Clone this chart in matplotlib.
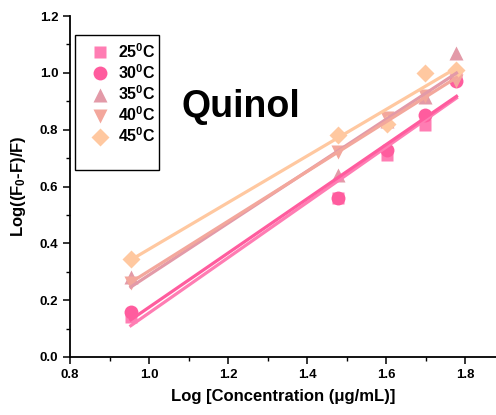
import numpy as np
import matplotlib.pyplot as plt
from matplotlib.patches import Rectangle
from matplotlib.ticker import MultipleLocator

plt.rcParams['font.family'] = ['Liberation Sans', 'DejaVu Sans']
plt.rcParams['font.weight'] = 'bold'
plt.rcParams['mathtext.fontset'] = 'custom'
plt.rcParams['mathtext.rm'] = 'Liberation Sans:bold'
plt.rcParams['mathtext.bf'] = 'Liberation Sans:bold'
plt.rcParams['mathtext.default'] = 'bf'

# log of concentration (ug/mL)
log_conc = np.array([0.954, 1.477, 1.602, 1.699, 1.778])

y25 = np.array([0.14, 0.56, 0.71, 0.815, 0.99])
y30 = np.array([0.16, 0.56, 0.73, 0.85, 0.97])
y35 = np.array([0.28, 0.64, 0.83, 0.915, 1.07])
y40 = np.array([0.26, 0.72, 0.84, 0.92, 0.97])
y45 = np.array([0.345, 0.78, 0.82, 1.00, 1.01])

series = [y25, y30, y35, y40, y45]
labels = [r'25$^{0}$C', r'30$^{0}$C', r'35$^{0}$C', r'40$^{0}$C', r'45$^{0}$C']
markers = ['s', 'o', '^', 'v', 'D']
msizes = [9, 10, 10, 10, 9]
colors = ['#FF7DB3', '#FF5C9E', '#E39AA8', '#F3A79C', '#FFC8A0']

fig = plt.figure(figsize=(4.96, 4.15), dpi=100)
ax = fig.add_axes([0.1411, 0.1398, 0.8589, 0.8216])

handles = []
for y, lab, m, ms, c in zip(series, labels, markers, msizes, colors):
    k, b = np.polyfit(log_conc, y, 1)
    xx = np.array([log_conc.min(), log_conc.max()])
    ax.plot(xx, k * xx + b, color=c, lw=2.3, zorder=3)
    h, = ax.plot(log_conc, y, linestyle='none', marker=m, ms=ms,
                 color=c, mec='none', zorder=2, label=lab)
    handles.append(h)

ax.set_xlim(0.8, 1.878)
ax.set_ylim(0.0, 1.2)
ax.xaxis.set_major_locator(MultipleLocator(0.2))
ax.xaxis.set_minor_locator(MultipleLocator(0.1))
ax.yaxis.set_major_locator(MultipleLocator(0.2))
ax.yaxis.set_minor_locator(MultipleLocator(0.1))
ax.xaxis.set_major_formatter(plt.FormatStrFormatter('%.1f'))
ax.yaxis.set_major_formatter(plt.FormatStrFormatter('%.1f'))

for s in ['top', 'right']:
    ax.spines[s].set_visible(False)
for s in ['left', 'bottom']:
    ax.spines[s].set_linewidth(1.3)
ax.tick_params(which='major', direction='out', length=5, width=1.1, labelsize=9.5)
ax.tick_params(which='minor', direction='out', length=3, width=1.0)
for t in ax.get_xticklabels() + ax.get_yticklabels():
    t.set_fontweight('bold')

ax.set_xlabel('Log [Concentration (\u03bcg/mL)]', fontsize=12, fontweight='bold', labelpad=6)
ax.set_ylabel(r'Log((F$_0$-F)/F)', fontsize=12, fontweight='bold', labelpad=8)

ax.text(1.082, 0.845, 'Quinol', fontsize=27, fontweight='bold')

leg = ax.legend(handles=handles, loc='upper left', bbox_to_anchor=(0.021, 0.956),
                frameon=False, fontsize=11.5, handletextpad=0.55, labelspacing=0.15,
                handlelength=1.2, borderaxespad=0.3)
ax.add_patch(Rectangle((0.0117, 0.548), 0.197, 0.396, transform=ax.transAxes,
                       fill=False, ec='black', lw=1.0, zorder=5))

fig.savefig('out.png', dpi=100)
